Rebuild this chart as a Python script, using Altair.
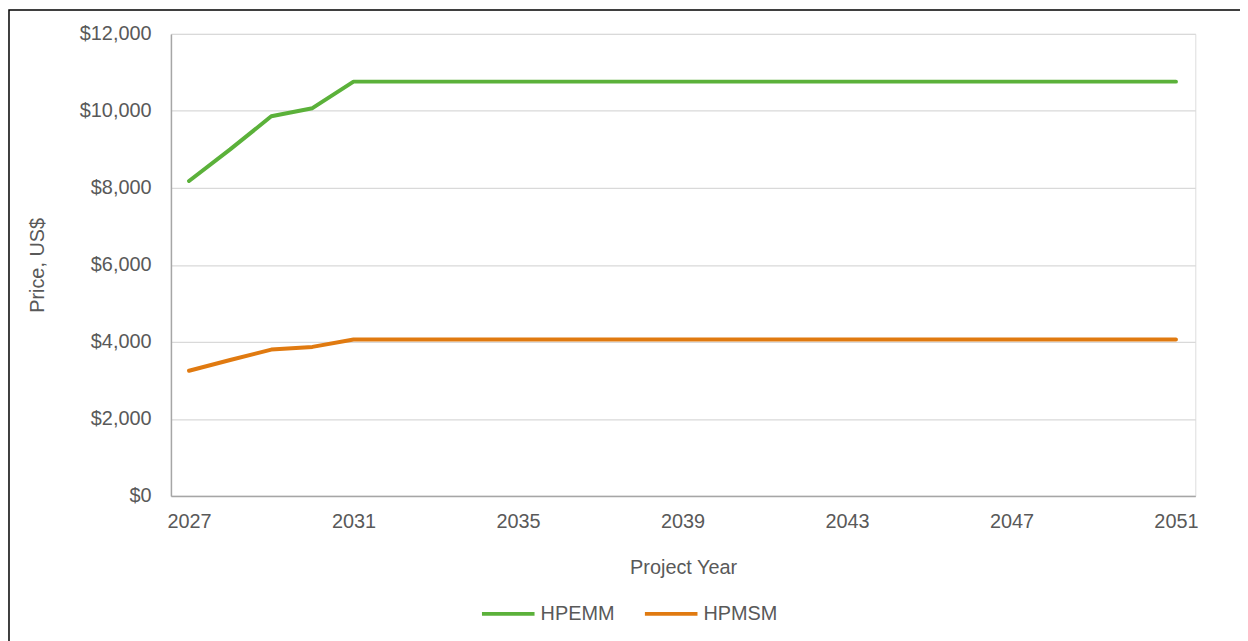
import altair as alt
import pandas as pd

years = list(range(2027, 2052))
hpemm = [8180, 9000, 9860, 10070, 10760] + [10760] * 20
hpmsm = [3250, 3530, 3800, 3870, 4060] + [4060] * 20
series_names = ["HPEMM", "HPMSM"]
series_colors = ["#5bb13a", "#e07a10"]
x_ticks = [2027, 2031, 2035, 2039, 2043, 2047, 2051]
y_ticks = [0, 2000, 4000, 6000, 8000, 10000, 12000]

rows = []
for name, vals in zip(series_names, [hpemm, hpmsm]):
    for yr, v in zip(years, vals):
        rows.append({"year": yr, "price": v, "series": name})
df = pd.DataFrame(rows)

font = "Liberation Sans"
gray = "#595959"
fs = 20

lines = alt.Chart(df).mark_line(strokeWidth=4, strokeJoin="round", strokeCap="round").encode(
    x=alt.X("year:Q",
            scale=alt.Scale(domain=[2026.56, 2051.47], nice=False, zero=False),
            axis=alt.Axis(values=x_ticks, format="d", title="Project Year",
                          grid=False, ticks=False, domainColor="#a6a6a6", domainWidth=1.5,
                          labelPadding=16, labelFontSize=fs, labelColor=gray, labelFont=font,
                          titleFontSize=fs, titleColor=gray, titleFont=font, titleFontWeight="normal",
                          titlePadding=26)),
    y=alt.Y("price:Q",
            scale=alt.Scale(domain=[0, 12000], nice=False),
            axis=alt.Axis(values=y_ticks, format="$,d", title="Price, US$",
                          grid=True, gridColor="#d9d9d9", gridWidth=1.2, ticks=False,
                          domainColor="#a6a6a6", domainWidth=1.5,
                          labelPadding=20, labelFontSize=fs, labelColor=gray, labelFont=font,
                          titleFontSize=fs, titleColor=gray, titleFont=font, titleFontWeight="normal",
                          titlePadding=32)),
    color=alt.Color("series:N",
                    scale=alt.Scale(domain=series_names, range=series_colors),
                    legend=alt.Legend(title=None, orient="none", legendX=311, legendY=555,
                                      direction="horizontal", symbolType="stroke",
                                      symbolSize=2800, symbolStrokeWidth=4,
                                      labelFontSize=fs, labelColor=gray, labelFont=font,
                                      labelOffset=4, columnPadding=22)),
)

frame = alt.Chart(alt.Data(values=[{"a": 1}])).mark_rect(
    fill=None, stroke="#000000", strokeWidth=1.5, clip=False
).encode(
    x=alt.value(-163), x2=alt.value(1100), y=alt.value(-24), y2=alt.value(700)
)

chart = alt.layer(frame, lines).properties(
    width=1031, height=465,
    autosize=alt.AutoSizeParams(type="none"),
    padding={"left": 164, "top": 24, "right": 45, "bottom": 144},
).configure_view(stroke=None).configure(background="white")

chart.save("out.html", embed_options={"renderer": "svg", "actions": False})
